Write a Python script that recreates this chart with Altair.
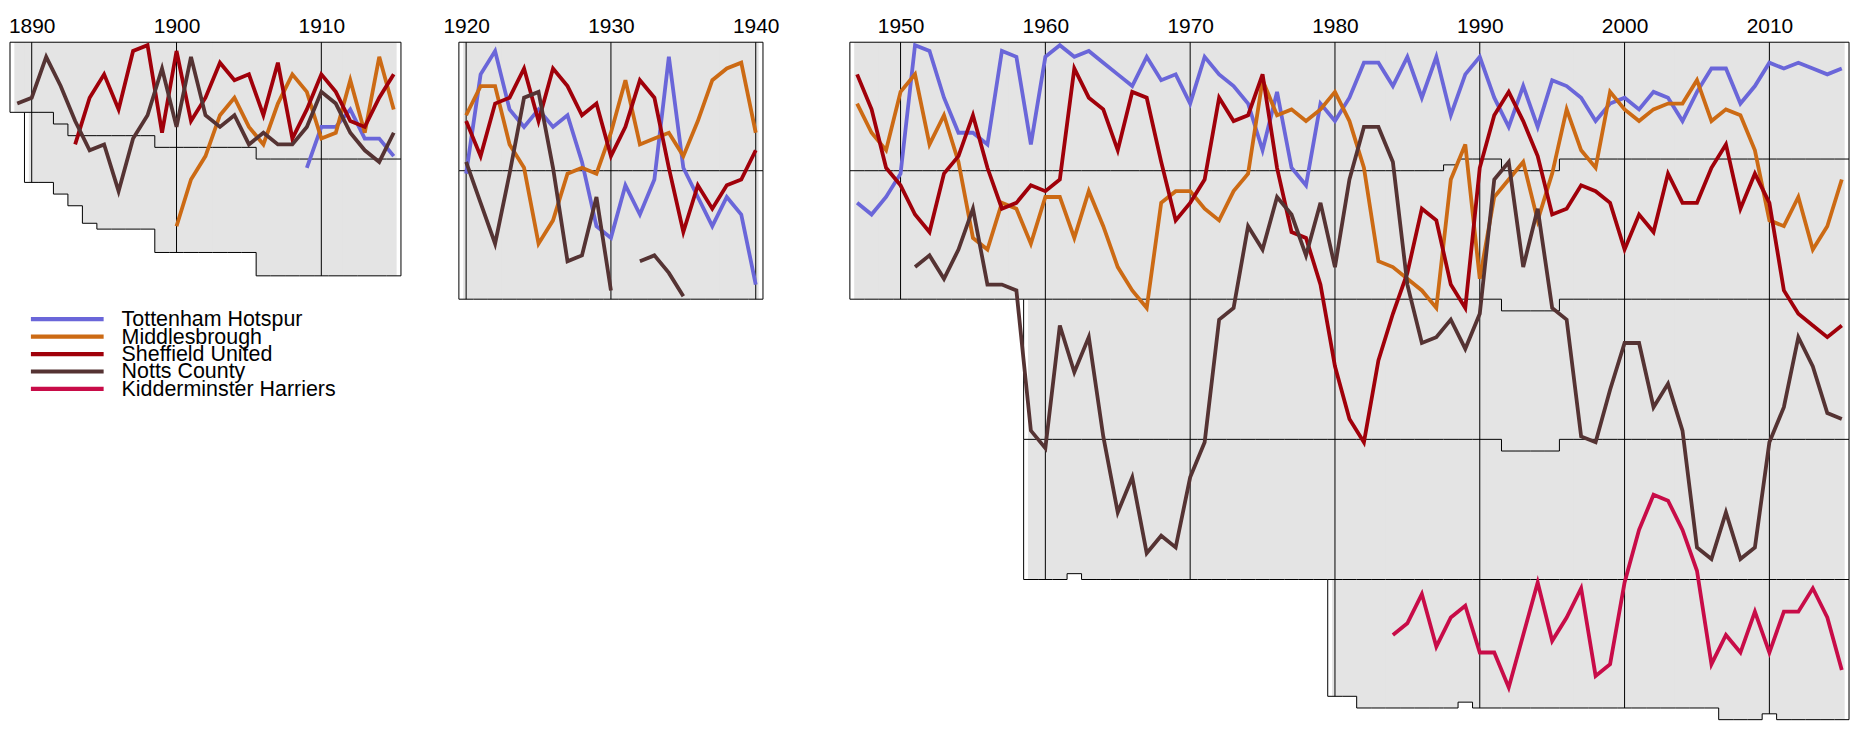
import altair as alt
import pandas as pd

# ---------------- data ----------------
CLUBS = ["Tottenham Hotspur", "Middlesbrough", "Sheffield United",
         "Notts County", "Kidderminster Harriers"]
COLORS = ["#6a66d9", "#cc6a14", "#a0000a", "#553333", "#c80c48"]
DECADES = [1890, 1900, 1910, 1920, 1930, 1940, 1950, 1960, 1970, 1980, 1990, 2000, 2010]
ERAS = [(1889, 1915), (1920, 1940), (1947, 2015)]

# number of clubs per tier: (first season, last season, clubs); season = year it ended
TIER1_RUNS = [(1889, 1891, 12), (1892, 1892, 14), (1893, 1898, 16), (1899, 1905, 18),
              (1906, 1915, 20), (1920, 1940, 22), (1947, 1987, 22), (1988, 1988, 21),
              (1989, 1991, 20), (1992, 1995, 22), (1996, 2015, 20)]
TIER2_RUNS = [(1890, 1893, 12), (1894, 1894, 15), (1895, 1898, 16), (1899, 1905, 18),
              (1906, 1915, 20), (1920, 1940, 22), (1947, 1987, 22), (1988, 1988, 23),
              (1989, 2015, 24)]
TIER3_RUNS = [(1959, 2015, 24)]
TIER4_RUNS = [(1959, 1961, 24), (1962, 1962, 23), (1963, 1991, 24), (1992, 1995, 22),
              (1996, 2015, 24)]
TIER5_RUNS = [(1980, 1981, 20), (1982, 1988, 22), (1989, 1989, 21), (1990, 2006, 22),
              (2007, 2009, 24), (2010, 2010, 23), (2011, 2015, 24)]

# overall positions (tier offset + league position)
TOT_1909 = [22, 15, 15, 12, 17, 17, 20]
TOT_1920 = [23, 6, 2, 12, 15, 12, 15, 13, 21, 32, 34, 25, 30, 24, 3, 22, 27, 32, 27, 30, 42]
TOT_1947 = [28, 30, 27, 23, 1, 2, 10, 16, 16, 18,
            2, 3, 18, 3, 1, 3, 2, 4, 6, 8,
            3, 7, 6, 11, 3, 6, 8, 11, 19, 9,
            22, 25, 11, 14, 10, 4, 4, 8, 3, 10,
            3, 13, 6, 3, 10, 15, 8, 15, 7, 8,
            10, 14, 11, 10, 12, 9, 10, 14, 9, 5,
            5, 11, 8, 4, 5, 4, 5, 6, 5]

MID_1900 = [32, 24, 20, 13, 10, 15, 18, 11, 6, 9, 17, 16, 7, 16, 3, 12]
MID_1920 = [13, 8, 8, 18, 22, 35, 31, 23, 22, 23, 16, 7, 18, 17, 16, 20, 14, 7, 5, 4, 16]
MID_1947 = [11, 16, 19, 9, 6, 18, 13, 21, 34, 36,
            28, 29, 35, 27, 27, 34, 26, 32, 39, 43,
            46, 28, 26, 26, 29, 31, 26, 23, 7, 13,
            12, 14, 12, 9, 14, 22, 38, 39, 41, 43,
            46, 24, 18, 41, 27, 24, 21, 31, 23, 12,
            19, 22, 9, 12, 14, 12, 11, 11, 7, 14,
            12, 13, 19, 31, 32, 27, 36, 32, 24]

SHU_1893 = [18, 10, 6, 12, 2, 1, 16, 2, 14, 10, 4, 7, 6, 13, 4, 17, 12, 6, 9, 14, 15, 10, 6]
SHU_1920 = [14, 20, 11, 10, 5, 14, 5, 8, 13, 11, 20, 15, 7, 10, 22, 33, 25, 29, 25, 24, 19]
SHU_1947 = [6, 12, 22, 25, 30, 33, 23, 20, 13, 22,
            29, 28, 25, 26, 24, 5, 10, 12, 19, 9,
            10, 21, 31, 28, 24, 10, 14, 13, 6, 22,
            33, 34, 42, 56, 65, 69, 55, 47, 40, 29,
            31, 42, 46, 22, 13, 9, 14, 20, 30, 29,
            25, 26, 28, 36, 30, 33, 23, 28, 28, 22,
            18, 29, 23, 28, 43, 47, 49, 51, 49]

NOTTS_1889 = [11, 10, 3, 8, 14, 19, 18, 26, 17, 13, 5, 15, 3, 13, 15, 13, 18, 16, 18, 18,
              15, 9, 11, 16, 19, 21, 16]
NOTTS_1920 = [21, 28, 35, 23, 10, 9, 22, 38, 37, 27, 43, None, 38, 37, 40, 44]
NOTTS_1951 = [39, 37, 41, 36, 29, 42, 42, 43, 67, 70,
              49, 57, 51, 68, 81, 75, 88, 85, 87, 75,
              69, 48, 46, 32, 36, 27, 30, 37, 28, 39,
              24, 15, 15, 21, 42, 52, 51, 48, 53, 47,
              24, 21, 39, 29, 46, 48, 68, 69, 60, 52,
              52, 63, 59, 67, 87, 89, 81, 89, 87, 69,
              63, 51, 56, 64, 65]

KID_1984 = [102, 100, 95, 104, 99, 97, 105, 105, 111, 102,
            93, 103, 99, 94, 109, 107, 93, 84, 78, 79,
            84, 91, 107, 102, 105, 98, 105, 98, 98, 94,
            99, 108]

SERIES = [
    ("Tottenham Hotspur", 1909, TOT_1909), ("Tottenham Hotspur", 1920, TOT_1920),
    ("Tottenham Hotspur", 1947, TOT_1947),
    ("Middlesbrough", 1900, MID_1900), ("Middlesbrough", 1920, MID_1920),
    ("Middlesbrough", 1947, MID_1947),
    ("Sheffield United", 1893, SHU_1893), ("Sheffield United", 1920, SHU_1920),
    ("Sheffield United", 1947, SHU_1947),
    ("Notts County", 1889, NOTTS_1889), ("Notts County", 1920, NOTTS_1920),
    ("Notts County", 1951, NOTTS_1951),
    ("Kidderminster Harriers", 1984, KID_1984),
]

# ---------------- derived tables ----------------
def expand(runs):
    d = {}
    for a, b, n in runs:
        for yr in range(a, b + 1):
            d[yr] = n
    return d

SIZES = [expand(r) for r in (TIER1_RUNS, TIER2_RUNS, TIER3_RUNS, TIER4_RUNS, TIER5_RUNS)]
SEASONS = [yr for a, b in ERAS for yr in range(a, b + 1)]
SEASON_SET = set(SEASONS)


def size(k, yr):
    if yr not in SEASON_SET or k < 0:
        return 0
    return SIZES[k].get(yr, 0)


def cum(k, yr):
    return sum(size(j, yr) for j in range(k + 1))


gray_rows, step_rows, vr_rows, hr_rows = [], [], [], []
for yr in SEASONS:
    for k in range(5):
        if size(k, yr) == 0:
            continue
        prev = size(k, yr - 1) > 0
        nxt = size(k, yr + 1) > 0
        gray_rows.append(dict(
            x0=yr - 0.53 if prev else yr - 0.2,
            x1=yr + 0.53 if nxt else yr + 0.2,
            y0=cum(k - 1, yr) + 0.4 if k > 0 else 0.5,
            y1=cum(k, yr) + 0.5))

for k in range(5):
    runs, run = [], []
    for yr in SEASONS:
        if size(k, yr) > 0:
            if run and yr == run[-1] + 1:
                run.append(yr)
            else:
                if run:
                    runs.append(run)
                run = [yr]
        else:
            if run:
                runs.append(run)
            run = []
    if run:
        runs.append(run)
    for r in runs:
        rid = f"t{k}-{r[0]}"
        i = 0
        for yr in r:
            b = cum(k, yr) + 0.5
            step_rows.append(dict(x=yr - 0.5, y=b, i=i, run=rid))
            step_rows.append(dict(x=yr + 0.5, y=b, i=i + 1, run=rid))
            i += 2
        vr_rows.append(dict(x=r[0] - 0.5, y0=cum(k - 1, r[0]) + 0.5, y1=cum(k, r[0]) + 0.5))
        vr_rows.append(dict(x=r[-1] + 0.5, y0=cum(k - 1, r[-1]) + 0.5, y1=cum(k, r[-1]) + 0.5))
        if k == 0:
            hr_rows.append(dict(x0=r[0] - 0.5, x1=r[-1] + 0.5, y=0.5))

for d in DECADES:
    if d in SEASON_SET:
        vr_rows.append(dict(x=d, y0=0.5, y1=cum(4, d) + 0.5))

club_rows = []
for club, start, vals in SERIES:
    seg = 0
    for i, v in enumerate(vals):
        if v is None:
            seg += 1
            continue
        club_rows.append(dict(club=club, year=start + i, pos=v, seg=f"{club}|{start}|{seg}"))

gray_df = pd.DataFrame(gray_rows)
step_df = pd.DataFrame(step_rows)
vr_df = pd.DataFrame(vr_rows)
hr_df = pd.DataFrame(hr_rows)
club_df = pd.DataFrame(club_rows)
leg_df = pd.DataFrame({"club": CLUBS})

# ---------------- chart ----------------
FONT = "Liberation Sans"
SX = alt.Scale(domain=[1888.5, 2015.5], nice=False, zero=False)
SY = alt.Scale(domain=[0.5, 116.5], reverse=True, nice=False, zero=False)
AX = alt.Axis(orient="top", values=DECADES, format="d", domain=False, ticks=False,
              tickSize=0, grid=False, labelFontSize=21, labelFont=FONT,
              labelColor="black", labelPadding=6, labelOverlap=False,
              labelFlush=False, minExtent=28, maxExtent=28, title=None)


def xq(f):
    return alt.X(f, scale=SX, axis=AX)


def yq(f):
    return alt.Y(f, scale=SY, axis=None)


gray = alt.Chart(gray_df).mark_rect(color="#e4e4e4", strokeWidth=0).encode(
    x=xq("x0:Q"), x2="x1:Q", y=yq("y0:Q"), y2="y1:Q")

steps = alt.Chart(step_df).mark_line(color="black", strokeWidth=1).encode(
    x=xq("x:Q"), y=yq("y:Q"), detail="run:N", order="i:Q")

vrules = alt.Chart(vr_df).mark_rule(color="black", strokeWidth=1).encode(
    x=xq("x:Q"), y=yq("y0:Q"), y2="y1:Q")

hrules = alt.Chart(hr_df).mark_rule(color="black", strokeWidth=1).encode(
    x=xq("x0:Q"), x2="x1:Q", y=yq("y:Q"))

club_layers = []
for club, color in zip(CLUBS, COLORS):
    club_layers.append(
        alt.Chart(club_df[club_df["club"] == club]).mark_line(
            color=color, strokeWidth=3.8).encode(
            x=xq("year:Q"), y=yq("pos:Q"), detail="seg:N", order="year:Q"))

LY = alt.Y("club:N", scale=alt.Scale(type="point", domain=CLUBS, range=[278, 348], padding=0),
           axis=None)
leg_rule = alt.Chart(leg_df).mark_rule(strokeWidth=4.2).encode(
    x=alt.value(21), x2=alt.value(94), y=LY,
    color=alt.Color("club:N", scale=alt.Scale(domain=CLUBS, range=COLORS), legend=None))
leg_text = alt.Chart(leg_df).mark_text(
    align="left", baseline="alphabetic", dy=7, fontSize=21.5, font=FONT, color="black").encode(
    x=alt.value(112), y=LY, text="club:N")

chart = alt.layer(gray, steps, vrules, hrules, *club_layers, leg_rule, leg_text).resolve_scale(
    y="independent").properties(
    width=1846, height=680,
    padding={"left": 0, "top": 5, "right": 5, "bottom": 5},
    background="white").configure_view(strokeWidth=0)

chart.save("out.html", embed_options={"renderer": "svg", "actions": False})
